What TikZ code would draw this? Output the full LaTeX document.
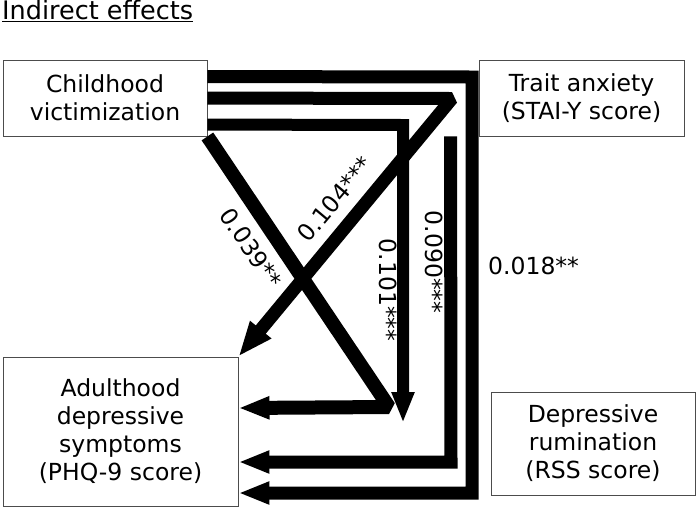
\documentclass[tikz,border=0pt]{standalone}
\usepackage{fontspec}
\setmainfont{DejaVu Sans}
\usetikzlibrary{arrows.meta}
\definecolor{boxline}{gray}{0.3}

\begin{document}
\begin{tikzpicture}[x=1pt,y=-1pt,
	box/.style={draw=boxline,line width=0.9pt,fill=white,align=center,inner sep=0pt,
		font=\fontsize{23.5}{28}\selectfont},
	effect/.style={line width=#1,line join=miter,-{Triangle[length=31pt,width=21pt]}},
	coef/.style={inner sep=1pt,font=\fontsize{23.5}{28}\selectfont}]
	\useasboundingbox (0,0) rectangle (696,507);
	% variables
	\node[anchor=north west,inner sep=0pt,font=\fontsize{25.5}{30}\selectfont] (title) at (2,0) {\underline{Indirect effects}};
	\node[box,minimum width=204pt,minimum height=76pt] (cv) at (105,98) {Childhood\\victimization};
	\node[box,minimum width=205pt,minimum height=76pt] (ta) at (581.5,98) {Trait anxiety\\(STAI-Y score)};
	\node[box,minimum width=235pt,minimum height=149pt] (ad) at (120.5,431.5) {Adulthood\\depressive\\symptoms\\(PHQ-9 score)};
	\node[box,minimum width=204pt,minimum height=103pt] (dr) at (593,443.5) {Depressive\\rumination\\(RSS score)};
	% indirect paths
	\draw[effect=13pt] ([yshift=-17pt]cv.north east) -- (472,77) -- (472,493) -- ([yshift=-61.5pt]ad.east);
	\draw[effect=13pt,line join=bevel,-{Triangle[length=35pt,width=25pt]}] ([yshift=-38.5pt]cv.north east) -- (452,98.5) -- (ad.north east);
	\draw[effect=12pt] ([yshift=-65pt]cv.north east) -- (403,125) -- (403,423);
	\draw[effect=14pt,line join=bevel] (cv.south east) -- (389,407) -- ([yshift=23.5pt]ad.east);
	\draw[effect=13pt] ([xshift=-28pt]ta.south west) -- (451,462) -- ([yshift=-30.5pt]ad.east);
	% coefficients
	\node[coef,rotate=-56] (c039) at (251,248) {0.039**};
	\node[coef,rotate=50] (c104) at (335,199) {0.104***};
	\node[coef,rotate=-90] (c101) at (388,290) {0.101***};
	\node[coef,rotate=-90] (c090) at (434,262) {0.090***};
	\node[coef,anchor=west] (c018) at (487,266) {0.018**};
\end{tikzpicture}
\end{document}
